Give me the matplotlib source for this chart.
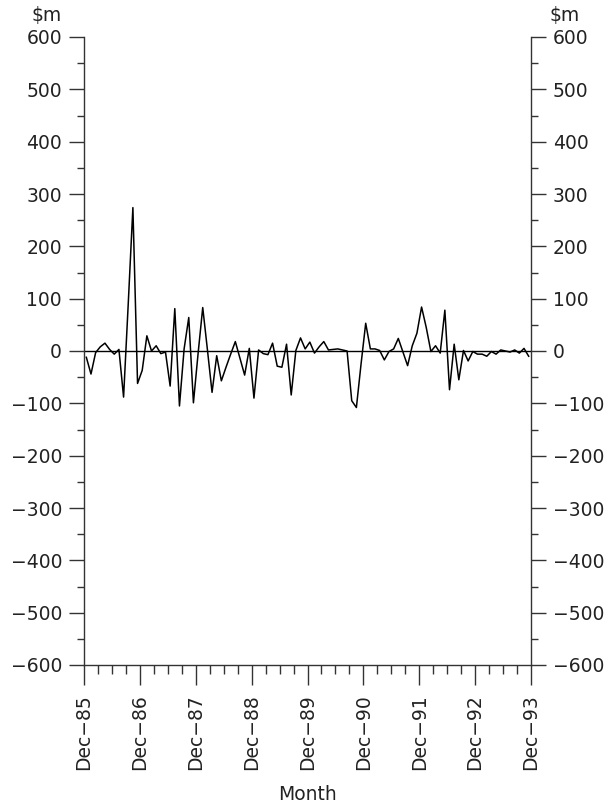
import matplotlib
matplotlib.use("Agg")
import matplotlib.pyplot as plt
from matplotlib.ticker import MultipleLocator, FixedLocator
import numpy as np

# Monthly values ($m), Jan-86 .. Dec-93
values = [
    -12, -44, -3, 8, 15, 3, -6, 3, -88, 90,
    274, -62, -37, 29, 0, 10, -5, -2, -67, 81,
    -105, 4, 64, -99, -5, 83, 3, -79, -9, -57,
    -31, -6, 18, -14, -46, 5, -90, 2, -5, -7,
    15, -29, -31, 13, -84, 1, 25, 4, 17, -4,
    8, 18, 2, 3, 4, 2, 0, -95, -108, -25,
    53, 4, 4, 1, -17, -1, 4, 24, -2, -28,
    10, 34, 84, 45, -1, 10, -4, 78, -74, 13,
    -55, 1, -19, -1, -6, -6, -10, -1, -6, 2,
    0, -2, 2, -4, 5, -10,
]
tick_labels = ["Dec\u221285", "Dec\u221286", "Dec\u221287", "Dec\u221288", "Dec\u221289",
               "Dec\u221290", "Dec\u221291", "Dec\u221292", "Dec\u221293"]
y_ticks = [-600, -500, -400, -300, -200, -100, 0, 100, 200, 300, 400, 500, 600]

plt.rcParams['font.family'] = ['DejaVu Sans']
txt = '#222222'
fs = 13.5

fig = plt.figure(figsize=(6.15, 8.10), dpi=100)
ax = fig.add_axes([84/615, 1-665/810, (531-84)/615, (665-37)/810])

x = np.arange(len(values)) + 0.5
ax.plot(x, values, color='black', lw=1.1)
ax.axhline(0, color='black', lw=1.0)

ax.set_xlim(0, 96)
ax.set_ylim(-600, 600)

ax.spines['top'].set_visible(False)
for s in ['left', 'right', 'bottom']:
    ax.spines[s].set_linewidth(1.0)
    ax.spines[s].set_color('#333333')

ax.set_yticks(y_ticks)
ax.set_yticklabels([("\u2212%d" % -v) if v < 0 else str(v) for v in y_ticks])
ax.yaxis.set_minor_locator(MultipleLocator(50))
ax.tick_params(axis='y', which='major', direction='out', length=10.8, width=1.0,
               labelsize=fs, labelcolor=txt, pad=5, left=True, right=True,
               labelleft=True, labelright=True, color='#333333')
ax.tick_params(axis='y', which='minor', direction='out', length=5, width=1.0,
               left=True, right=True, color='#333333')

ax.set_xticks(np.arange(0, 97, 12))
ax.set_xticklabels(tick_labels, rotation=90)
ax.xaxis.set_minor_locator(MultipleLocator(3))
ax.tick_params(axis='x', which='major', direction='out', length=14.4, width=1.0,
               labelsize=fs, labelcolor=txt, pad=7, color='#333333')
ax.tick_params(axis='x', which='minor', direction='out', length=6.5, width=1.0,
               color='#333333')

fig.text(62/615, 1-16/810, "\\$m", ha='right', va='center', fontsize=fs, color=txt)
fig.text(580/615, 1-16/810, "\\$m", ha='right', va='center', fontsize=fs, color=txt)
fig.text(307/615, 1-795/810, "Month", ha='center', va='center', fontsize=fs, color=txt)

fig.savefig("out.png", dpi=100)
